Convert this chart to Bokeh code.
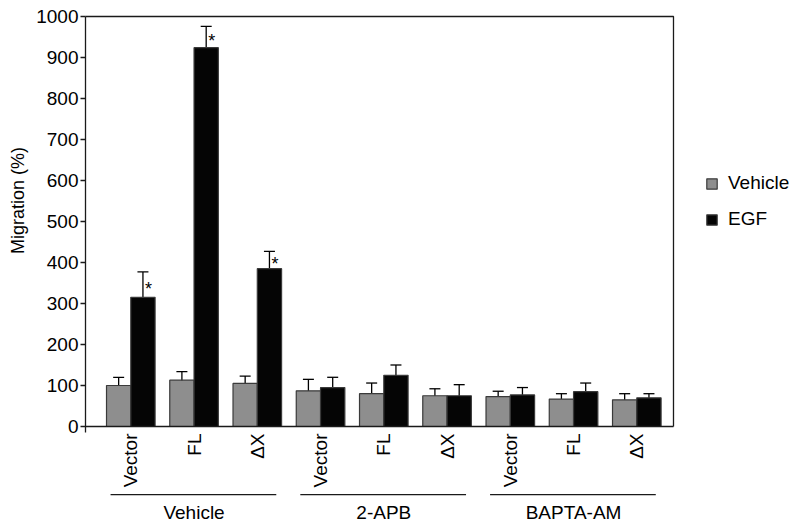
import math
from bokeh.plotting import figure
from bokeh.models import (Range1d, FixedTicker, ColumnDataSource, Whisker, TeeHead,
                          Legend, LegendItem)
from bokeh.embed import file_html
from bokeh.resources import INLINE
from bokeh.core.properties import value

# ---------------- data ----------------
groups = ["Vehicle", "2-APB", "BAPTA-AM"]
constructs = ["Vector", "FL", "ΔX"]
vehicle_mean = [100, 113, 105, 87, 80, 75, 73, 67, 65]
vehicle_err = [20, 21, 18, 28, 26, 17, 13, 13, 15]
egf_mean = [315, 924, 385, 95, 125, 75, 77, 85, 70]
egf_err = [62, 52, 42, 25, 25, 27, 18, 21, 10]
egf_significant = [True, True, True, False, False, False, False, False, False]
y_ticks = [0, 100, 200, 300, 400, 500, 600, 700, 800, 900, 1000]
y_label = "Migration (%)"
series_names = ["Vehicle", "EGF"]

FONT = "Liberation Sans"
FS = "19px"
n = len(vehicle_mean)
xs = list(range(n))
half = 0.192          # half bar width (data units)
x_left_edge = -0.716  # y-axis position
x_right_edge = 8.58   # right border of the box

veh_src = ColumnDataSource(dict(
    x=[x - half for x in xs], top=vehicle_mean,
    upper=[m + e for m, e in zip(vehicle_mean, vehicle_err)],
    lower=[m - e for m, e in zip(vehicle_mean, vehicle_err)]))
egf_src = ColumnDataSource(dict(
    x=[x + half for x in xs], top=egf_mean,
    upper=[m + e for m, e in zip(egf_mean, egf_err)],
    lower=[m - e for m, e in zip(egf_mean, egf_err)]))

p = figure(width=800, height=531, output_backend="svg", toolbar_location=None,
           x_range=Range1d(-2.060, 10.588), y_range=Range1d(-256.1, 1039.0),
           min_border_left=0, min_border_right=0, min_border_top=0, min_border_bottom=0)
p.outline_line_color = None
p.grid.visible = False
p.background_fill_color = "white"
p.border_fill_color = "white"

gray = p.vbar(x="x", top="top", bottom=0, width=2 * half, source=veh_src,
              fill_color="#8e8e8e", line_color="#3a3a3a", line_width=1.2)
black = p.vbar(x="x", top="top", bottom=0, width=2 * half, source=egf_src,
               fill_color="#050505", line_color="#3a3a3a", line_width=1.2)

for src in (veh_src, egf_src):
    w = Whisker(source=src, base="x", upper="upper", lower="lower", dimension="height",
                line_color="black", line_width=1.3,
                upper_head=TeeHead(size=11, line_color="black", line_width=1.3),
                lower_head=TeeHead(size=11, line_color="black", line_width=1.3))
    p.add_layout(w)

# significance stars
sx = [x + half for x, s in zip(xs, egf_significant) if s]
sy = [m + e / 2 for m, e, s in zip(egf_mean, egf_err, egf_significant) if s]
p.text(x=sx, y=sy, text=["*"] * len(sx), x_offset=2, y_offset=4, text_align="left",
       text_baseline="middle", text_font=value(FONT), text_font_size="18px",
       text_color="black")

# box: top and right borders
p.line(x=[x_left_edge, x_right_edge, x_right_edge], y=[1000, 1000, 0],
       line_color="#1a1a1a", line_width=1.3)

# y axis
ya = p.yaxis[0]
ya.fixed_location = x_left_edge
ya.bounds = (-15, 1000)
ya.ticker = FixedTicker(ticks=y_ticks)
ya.major_tick_out = 5
ya.major_tick_in = 0
ya.minor_tick_out = 0
ya.minor_tick_in = 0
ya.major_label_standoff = 2
ya.major_label_text_font = FONT
ya.major_label_text_font_size = FS
ya.major_label_text_color = "black"
ya.axis_line_color = "#1a1a1a"
ya.axis_line_width = 1.3
ya.major_tick_line_color = "#1a1a1a"
ya.major_tick_line_width = 1.3

# x axis (construct labels)
xa = p.xaxis[0]
xa.fixed_location = 0
xa.bounds = (x_left_edge, x_right_edge)
xa.ticker = FixedTicker(ticks=xs)
xa.major_label_overrides = {i: constructs[i % 3] for i in xs}
xa.major_label_orientation = math.pi / 2
xa.major_tick_out = 0
xa.major_tick_in = 0
xa.minor_tick_out = 0
xa.minor_tick_in = 0
xa.major_label_standoff = 7
xa.major_label_text_font = FONT
xa.major_label_text_font_size = FS
xa.major_label_text_color = "black"
xa.axis_line_color = "#1a1a1a"
xa.axis_line_width = 1.3

# y axis title
p.text(x=[-1.791], y=[551], text=[y_label], angle=math.pi / 2, text_align="center",
       text_baseline="middle", text_font=value(FONT), text_font_size="18px",
       text_color="black")

# group underlines and labels
g_start = [3 * g - 0.32 for g in range(len(groups))]
g_end = [3 * g + 2.3 for g in range(len(groups))]
p.segment(x0=g_start, x1=g_end, y0=[-166] * 3, y1=[-166] * 3,
          line_color="#1a1a1a", line_width=1.3)
p.text(x=[3 * g + 1 for g in range(len(groups))], y=[-210] * 3, text=groups,
       text_align="center", text_baseline="middle", text_font=value(FONT),
       text_font_size=FS, text_color="black")

legend = Legend(items=[LegendItem(label=series_names[0], renderers=[gray]),
                       LegendItem(label=series_names[1], renderers=[black])],
                location=(705, 301), padding=0, margin=0, spacing=14,
                glyph_width=13, glyph_height=13, label_standoff=10,
                label_text_font=FONT, label_text_font_size=FS,
                label_text_color="black", border_line_color=None,
                background_fill_alpha=0)
p.add_layout(legend)

open("out.html", "w").write(file_html(p, INLINE))
